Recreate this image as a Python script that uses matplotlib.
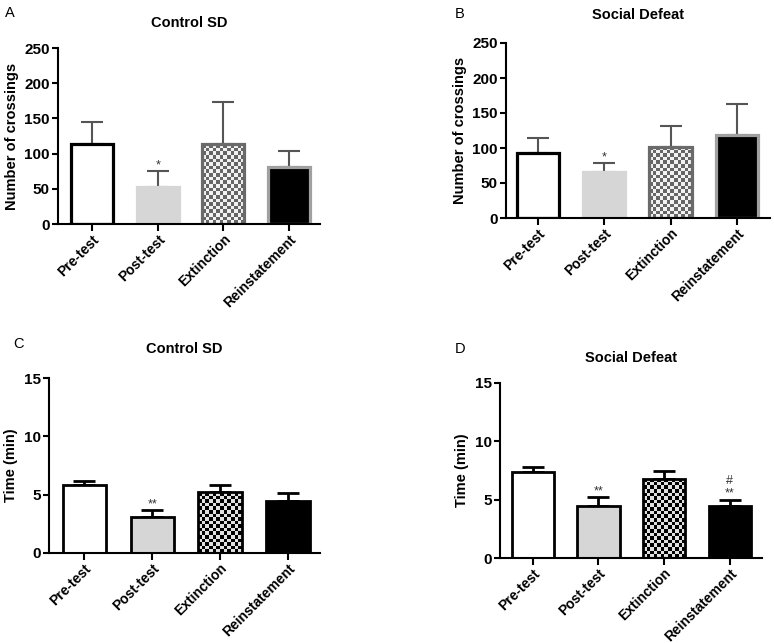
import numpy as np
import matplotlib
matplotlib.use("Agg")
import matplotlib.pyplot as plt

plt.rcParams['font.family'] = ['Liberation Sans', 'DejaVu Sans']

groups = ["Pre-test", "Post-test", "Extinction", "Reinstatement"]

# crossings (panels A, B)
cross_ctrl = [114, 52, 113, 81]
cross_ctrl_err = [31, 23, 61, 22]
cross_sd = [93, 66, 102, 119]
cross_sd_err = [22, 12, 29, 44]

# time (panels C, D)
time_ctrl = [5.8, 3.1, 5.2, 4.45]
time_ctrl_err = [0.4, 0.55, 0.6, 0.7]
time_sd = [7.4, 4.5, 6.8, 4.5]
time_sd_err = [0.4, 0.7, 0.7, 0.5]

# significance marks: (bar index, text)
marks_a = [(1, "*")]
marks_b = [(1, "*")]
marks_c = [(1, "**")]
marks_d = [(1, "**"), (3, "**")]
marks_d_hash = [(3, "#")]

W, H = 774, 643
fig = plt.figure(figsize=(W / 100, H / 100), dpi=100)


def checker(ax, rect, dark, light, cell=3.6):
    fig.canvas.draw()
    x0, y0 = rect.get_x(), rect.get_y()
    w, h = rect.get_width(), rect.get_height()
    p0 = ax.transData.transform((x0, y0))
    p1 = ax.transData.transform((x0 + w, y0 + h))
    nc = max(1, int(round((p1[0] - p0[0]) / cell)))
    nr = max(1, int(round((p1[1] - p0[1]) / cell)))
    img = (np.add.outer(np.arange(nr), np.arange(nc)) % 2).astype(float)
    cmap = matplotlib.colors.ListedColormap([dark, light])
    xl, yl = ax.get_xlim(), ax.get_ylim()
    im = ax.imshow(img, extent=(x0, x0 + w, y0, y0 + h), cmap=cmap,
                   interpolation="nearest", aspect="auto", zorder=1.5)
    im.set_clip_path(rect)
    ax.set_xlim(xl)
    ax.set_ylim(yl)


def panel(px, vals, errs, ymax, ystep, ylabel, title, letter, top,
          xl, marks, hash_marks=None, tpad=16):
    # px = (left, top, right, bottom) in pixels from top-left
    l, t, r, b = px
    ax = fig.add_axes([l / W, 1 - b / H, (r - l) / W, (b - t) / H])
    x = np.arange(len(groups))
    if top:
        fills = ["white", "#d6d6d6", "white", "black"]
        edges = ["black", "#d6d6d6", "#6a6a6a", "#a0a0a0"]
        lw = 2.3
        ecol = "#555555"
        elw = 1.5
        chk = ("#666666", "#f2f2f2")
    else:
        fills = ["white", "#d6d6d6", "white", "black"]
        edges = ["black"] * 4
        lw = 2.0
        ecol = "black"
        elw = 2.0
        chk = ("black", "#e0e0e0")
    ax.errorbar(x, vals, yerr=[np.zeros(len(vals)), errs], fmt="none",
                ecolor=ecol, elinewidth=elw, capsize=8, capthick=elw, zorder=1)
    bars = ax.bar(x, vals, width=0.64, color=fills, edgecolor=edges,
                  linewidth=lw, zorder=2)
    ax.set_ylim(0, ymax)
    ax.set_xlim(*xl)
    ax.set_yticks(np.arange(0, ymax + 1e-9, ystep))
    ax.set_xticks(x)
    ax.set_xticklabels(groups, rotation=45, ha="right", rotation_mode="anchor",
                       fontsize=10, fontweight="bold")
    for lab in ax.get_yticklabels():
        lab.set_fontsize(11)
        lab.set_fontweight("bold")
    ax.spines["top"].set_visible(False)
    ax.spines["right"].set_visible(False)
    ax.spines["left"].set_linewidth(1.5)
    ax.spines["bottom"].set_linewidth(1.5)
    ax.spines["left"].set_zorder(3)
    ax.spines["bottom"].set_zorder(3)
    ax.tick_params(axis="y", length=4, width=1.5, pad=2)
    ax.tick_params(axis="x", length=5, width=1.5, pad=1)
    ax.set_ylabel(ylabel, fontsize=10.5, fontweight="bold", labelpad=4)
    ax.set_title(title, fontsize=10.5, fontweight="bold", pad=tpad)
    # checkerboard on Extinction bar
    bars[2].set_facecolor("none")
    checker(ax, bars[2], *chk)
    for i, s in marks:
        ax.annotate(s, (i, vals[i] + errs[i]), xytext=(0, 0),
                    textcoords="offset points", ha="center", va="bottom",
                    fontsize=9, color="#333333")
    if hash_marks:
        for i, s in hash_marks:
            ax.annotate(s, (i, vals[i] + errs[i]), xytext=(0, 9),
                        textcoords="offset points", ha="center", va="bottom",
                        fontsize=9, color="#333333")
    return ax


panel((58, 48, 320, 224), cross_ctrl, cross_ctrl_err, 250, 50,
      "Number of crossings", "Control SD", "A", True, (-0.52, 3.47), marks_a,
      tpad=15)
panel((506, 43, 770, 218), cross_sd, cross_sd_err, 250, 50,
      "Number of crossings", "Social Defeat", "B", True, (-0.48, 3.5), marks_b,
      tpad=17)
panel((49, 378, 320, 553), time_ctrl, time_ctrl_err, 15, 5,
      "Time (min)", "Control SD", "C", False, (-0.52, 3.47), marks_c, tpad=18)
panel((500, 383, 762, 558), time_sd, time_sd_err, 15, 5,
      "Time (min)", "Social Defeat", "D", False, (-0.5, 3.49), marks_d,
      marks_d_hash, tpad=15)

# panel letters
letters = ["A", "B", "C", "D"]
letter_pos = [(5, 13), (455, 14), (13, 344), (455, 349)]
for s, (lx, ly) in zip(letters, letter_pos):
    fig.text(lx / W, 1 - ly / H, s, fontsize=10.5, ha="left", va="center")

fig.savefig("out.png", dpi=100)
